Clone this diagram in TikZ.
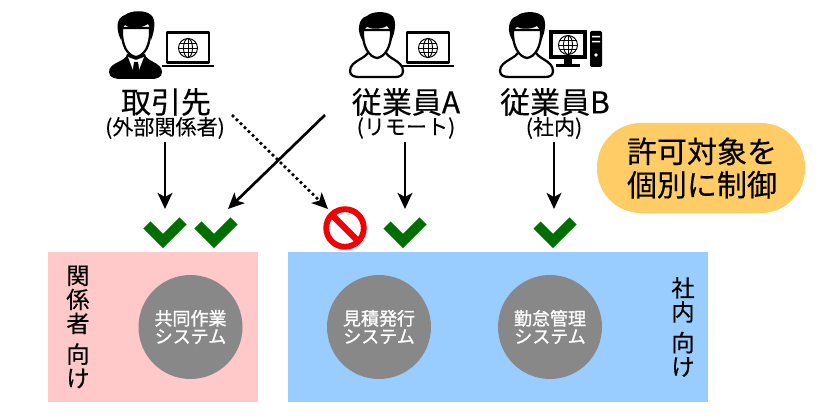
\documentclass[tikz,border=0pt]{standalone}
\usepackage{fontspec}
\setmainfont{Noto Sans CJK JP}
\newfontfamily\discfont{Noto Sans CJK JP}[FakeBold=1.2]
\newfontfamily\labelfont{Noto Sans CJK JP}[FakeBold=0.3]
\usetikzlibrary{arrows.meta}
\definecolor{pinkbg}{HTML}{FFC9C9}
\definecolor{bluebg}{HTML}{99CCFF}
\definecolor{pillc}{HTML}{FFCC66}
\definecolor{discgrey}{HTML}{888888}
\definecolor{okgreen}{HTML}{006E00}
\definecolor{stopred}{HTML}{F50000}
\tikzset{
  x=0.75pt,y=-0.75pt,
  bigtext/.style={font=\labelfont\fontsize{22.5}{24}\selectfont,inner sep=0,black},
  smalltext/.style={font=\labelfont\fontsize{15.8}{16}\selectfont,inner sep=0,black},
  vertext/.style={font=\labelfont\fontsize{17.5}{18}\selectfont,inner sep=0,align=center,black},
  disc/.style={circle,fill=discgrey,minimum size=78pt,inner sep=0,text=white,align=center,font=\discfont\fontsize{13.5}{13.5}\selectfont},
  arrowline/.style={-{Stealth[length=12pt,width=11pt,inset=3pt]},line width=2pt},
  dotline/.style={-{Stealth[length=12pt,width=11pt,inset=3pt]},line width=2pt,dash pattern=on 2pt off 2.2pt},
  okmark/.style={line width=7.6pt,okgreen,miter limit=10},
  hairfill/.style={fill=black,draw=none},
  iconline/.style={draw=black,line width=1.7pt,line join=round},
  person/.pic={
    \path[iconline,fill=white] (-8,50) .. controls (-9,59) and (-27,60) .. (-27,71) .. controls (-27,76) and (-22,77) .. (-18,77) -- (18,77) .. controls (22,77) and (26,76) .. (26,71) .. controls (26,60) and (9,59) .. (8,50) -- cycle;
    \path[iconline,fill=white] (-14,30) .. controls (-15,46) and (-8,57) .. (0,58) .. controls (8,57) and (15,46) .. (14,30) -- cycle;
    \path[hairfill] (-13.5,42) .. controls (-21,32) and (-19,18) .. (-10,16) .. controls (-5,11) and (9,11) .. (14,15) .. controls (20,18) and (19,32) .. (13.5,42) .. controls (14,35) and (14,29) .. (10,26) .. controls (3,30) and (-6,29) .. (-10,27) .. controls (-14,29) and (-14,35) .. (-13.5,42) -- cycle;
  },
  suitperson/.pic={
    \path[fill=black] (-9,54) .. controls (-10,62) and (-27,62) .. (-27,72) .. controls (-27,78) and (-20,79) .. (-15,79) -- (15,79) .. controls (20,79) and (26,78) .. (26,72) .. controls (26,62) and (10,62) .. (9,54) -- cycle;
    \path[fill=white] (-8,57) -- (-3,70) -- (-2,62) -- (2,62) -- (3,70) -- (8,57) -- (0,60) -- cycle;
    \path[fill=black] (-2,62) -- (2,62) -- (3,72) -- (0,76) -- (-3,72) -- cycle;
    \path[iconline,fill=white] (-14,28) .. controls (-15,46) and (-8,56) .. (0,57) .. controls (8,56) and (15,46) .. (14,28) -- cycle;
    \path[hairfill] (-15,40) .. controls (-21,28) and (-19,17) .. (-11,15) .. controls (-5,10) and (10,10) .. (15,15) .. controls (20,19) and (19,30) .. (15,40) .. controls (15,33) and (15,28) .. (12,24) .. controls (4,29) and (-6,29) .. (-11,25) .. controls (-15,28) and (-14,34) .. (-15,40) -- cycle;
  },
  globe/.pic={
    \draw[line width=.7pt] (0,0) circle[radius=9.5];
    \draw[line width=.7pt] (0,0) ellipse[x radius=4.5,y radius=9.5];
    \draw[line width=.7pt] (0,-9.5) -- (0,9.5) (-9.5,0) -- (9.5,0) (-8.5,-4.5) -- (8.5,-4.5) (-8.5,4.5) -- (8.5,4.5);
  },
  laptop/.pic={
    \draw[line width=2.2pt,line join=round] (-21,-15.5) rectangle (21,14.5);
    \fill (-26,17) rectangle (26,19.5);
    \pic at (0,0) {globe};
  }
}
\begin{document}
\begin{tikzpicture}
\useasboundingbox (0,0) rectangle (840,420);
% zones
\fill[pinkbg] (48,252) rectangle (258,402);
\fill[bluebg] (288,252) rectangle (708,402);
% pill
\fill[pillc,rounded corners=33pt] (597,123) rectangle (805,213);
\node[bigtext,align=center,font=\labelfont\fontsize{22.5}{25}\selectfont] (pill) at (702,168) {許可対象を\\個別に制御};
% icons
\pic at (136,0) {suitperson};
\pic at (188,48) {laptop};
\pic at (377,0) {person};
\pic at (428,48) {laptop};
\pic at (527,0) {person};
\draw[line width=3pt] (551,32.5) rectangle (585,57);
\pic at (568,45) {globe};
\fill (564,59) rectangle (572,64);
\fill (556,64) rectangle (580,67);
\fill[rounded corners=1pt] (590,31) rectangle (602,67);
\fill[white] (592,36) rectangle (600,37.5) (592,41) rectangle (600,42.5);
\fill[white] (596,55) circle[radius=1.8];
% labels
\node[bigtext] (torihiki) at (166,102) {取引先};
\node[smalltext] (torihikisub) at (165,128) {(外部関係者)};
\node[bigtext] (empa) at (406,102) {従業員A};
\node[smalltext] (empasub) at (406,128) {(リモート)};
\node[bigtext] (empb) at (555,102) {従業員B};
\node[smalltext] (empbsub) at (554,128) {(社内)};
% marks
\coordinate (chk1) at (165,209);
\coordinate (chk2) at (228,209);
\coordinate (stopc) at (328,209);
\coordinate (chk3) at (405,209);
\coordinate (chk4) at (554,209);
\coordinate (diagA) at (325,115);
\coordinate (diagT) at (232,115);
\foreach \mx in {147,198,387,537}{
  \draw[okmark] (\mx,225) -- ++(16,16) -- ++(20,-20);
}
\draw[stopred,line width=4.4pt] (345,228) circle[radius=18.8];
\draw[stopred,line width=4.6pt] (332,215) -- (358,241);
% arrows
\draw[arrowline] (torihikisub.south -| chk1) ++(0,3) -- (chk1);
\draw[arrowline] (diagA) -- (chk2);
\draw[dotline] (diagT) -- (stopc);
\draw[arrowline] (empasub.south -| chk3) ++(0,3) -- (chk3);
\draw[arrowline] (empbsub.south -| chk4) ++(0,3) -- (chk4);
% vertical labels
\node[vertext] (vpink) at (78,327) {関\\係\\者\\[5pt]向\\け};
\node[vertext] (vblue) at (683,327) {社\\内\\[5pt]向\\け};
% discs
\node[disc] (s1) at (190.5,327) {共同作業\\システム};
\node[disc] (s2) at (379,327) {見積発行\\システム};
\node[disc] (s3) at (550,327) {勤怠管理\\システム};
\end{tikzpicture}
\end{document}
